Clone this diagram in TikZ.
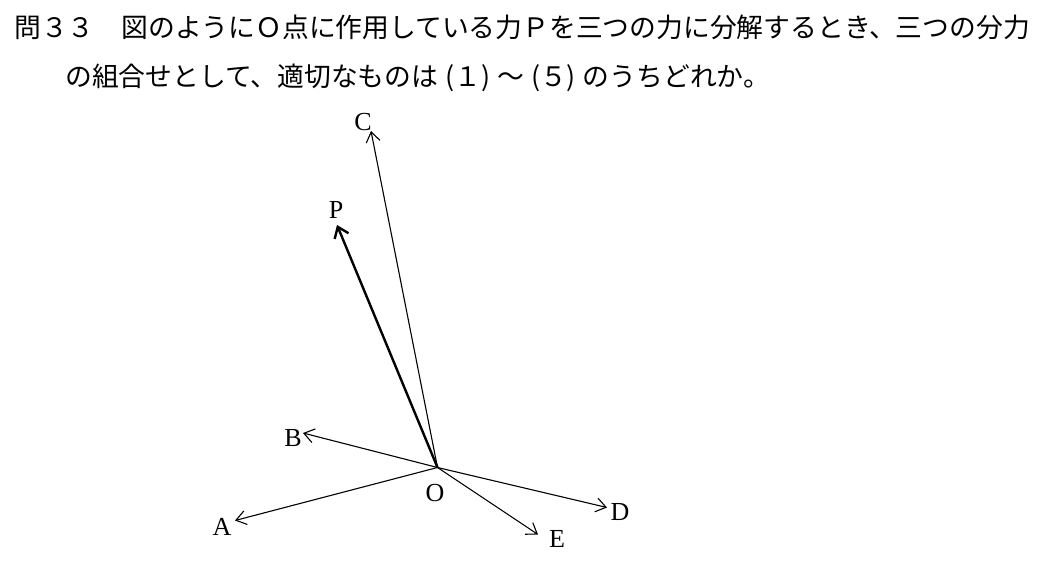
\documentclass[tikz,border=0pt]{standalone}
\usepackage{fontspec}
\setmainfont{Liberation Serif}
\newfontfamily\jpfont{Noto Sans CJK JP}
\usetikzlibrary{arrows.meta}
\newcommand{\jlp}{\makebox[0.6em][r]{(}}
\newcommand{\jrp}{\makebox[0.6em][l]{)}}
\begin{document}
\begin{tikzpicture}[x=1pt,y=-1pt,
  force/.style={line width=1.1pt,-{Straight Barb[length=10pt,width=14pt,line width=1.1pt]}},
  bigforce/.style={line width=2.4pt,-{Straight Barb[length=10pt,width=15pt,line width=2.4pt]}},
  lbl/.style={inner sep=0pt,font=\fontsize{26}{28}\selectfont},
  jtext/.style={inner sep=0pt,anchor=base west,font=\jpfont\fontsize{26.8}{30}\selectfont}]
\useasboundingbox (0,0) rectangle (1044,563);
\node[jtext] (t1) at (14,37) {問３３　図のようにＯ点に作用している力Ｐを三つの力に分解するとき、三つの分力};
\node[jtext] (t2) at (65,86) {の組合せとして、適切なものは\jlp１\jrp～\jlp５\jrp のうちどれか。};
\coordinate (O) at (437.5,467.5);
\coordinate (Ct) at (371,131);
\coordinate (Pt) at (337,225);
\coordinate (Bt) at (303,433);
\coordinate (At) at (235,520.5);
\coordinate (Dt) at (607,507.5);
\coordinate (Et) at (538,534.5);
\draw[force] (O) -- (Ct);
\draw[bigforce] (O) -- (Pt);
\draw[force] (O) -- (Bt);
\draw[force] (O) -- (At);
\draw[force] (O) -- (Dt);
\draw[force] (O) -- (Et);
\node[lbl] (lC) at (363,122) {C};
\node[lbl] (lP) at (336,210) {P};
\node[lbl] (lB) at (293,438) {B};
\node[lbl] (lA) at (222,527) {A};
\node[lbl] (lO) at (435,493) {O};
\node[lbl] (lD) at (620,512) {D};
\node[lbl] (lE) at (557,539) {E};
\end{tikzpicture}
\end{document}
